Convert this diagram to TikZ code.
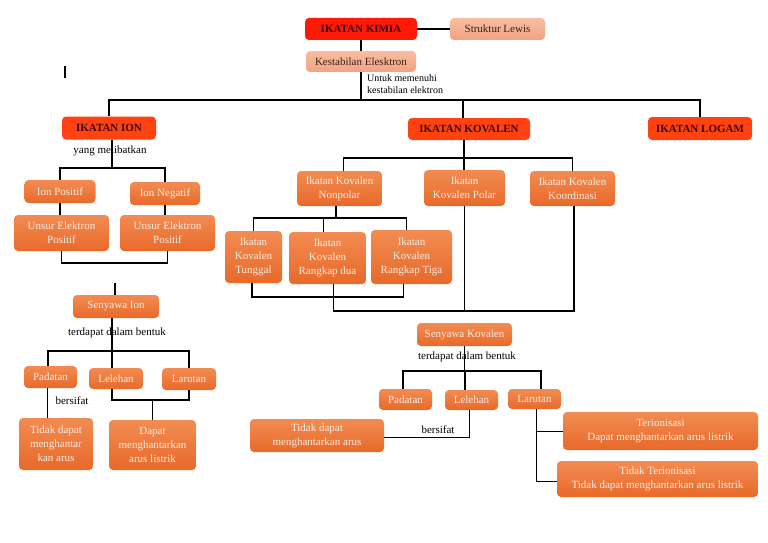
\documentclass[tikz,border=0pt]{standalone}
\usepackage{fontspec}
\setmainfont{Liberation Serif}
\begin{document}
\begin{tikzpicture}[x=1pt,y=-1pt,
  every node/.style={font=\fontsize{11}{14}\selectfont},
  boxbase/.style={rounded corners=4pt, inner sep=0pt, align=center},
  obox/.style={boxbase, top color=orange1, bottom color=orange2, text=cream},
  hbox/.style={boxbase, fill=hdred, text=hdtext, font=\bfseries\fontsize{11}{14}\selectfont},
  kbox/.style={boxbase, fill=kimiared, text=hdtext, font=\bfseries\fontsize{11}{14}\selectfont},
  pbox/.style={boxbase, top color=peach1, bottom color=peach2, text=peachtext},
  lbl/.style={inner sep=0pt, text=black},
  ln/.style={draw=black, line width=1.4pt},
  thinln/.style={draw=black, line width=0.9pt}
]
\definecolor{orange1}{HTML}{F28C52}
\definecolor{orange2}{HTML}{E8692A}
\definecolor{cream}{HTML}{FDEEE2}
\definecolor{hdred}{HTML}{FF4211}
\definecolor{kimiared}{HTML}{FF1A08}
\definecolor{hdtext}{HTML}{3A0800}
\definecolor{peach1}{HTML}{F8BDA2}
\definecolor{peach2}{HTML}{F2A282}
\definecolor{peachtext}{HTML}{3A2214}
\useasboundingbox (0,0) rectangle (768,543);

% top
\node[kbox, minimum width=112, minimum height=22] (kimia) at (361,29) {IKATAN KIMIA};
\node[pbox, minimum width=95, minimum height=22] (lewis) at (497.5,29) {Struktur Lewis};
\node[pbox, minimum width=110, minimum height=21] (kest) at (361,61.5) {Kestabilan Elesktron};
\draw[ln] (kimia) -- (lewis);
\draw[ln] (kimia.south) -- (kimia.south |- kest.north);
\coordinate (busA) at (361,100);
\draw[ln] (kest.south) -- (busA);
\node[lbl, anchor=north west, align=left, font=\fontsize{10}{12}\selectfont] (untuk) at (367,74.5) {Untuk memenuhi\\kestabilan elektron};

% stray mark
\draw[line width=2pt] (65,66) -- (65,78);

% headers
\node[hbox, minimum width=94, minimum height=23] (ion) at (109,128) {IKATAN ION};
\node[hbox, minimum width=122, minimum height=22] (kov) at (469,129) {IKATAN KOVALEN};
\node[hbox, minimum width=104, minimum height=23] (logam) at (700,128.5) {IKATAN LOGAM};
\draw[ln] (ion.north) |- (busA) -| (logam.north);
\draw[ln] ([xshift=-6pt]kov.north) -- ([xshift=-6pt]kov.north |- busA);

% ion subtree
\node[lbl] (yang) at (110,151) {yang melibatkan};
\coordinate (busB) at (112,168);
\draw[ln] (ion.south -| busB) -- (busB);
\node[obox, minimum width=71, minimum height=23] (ionpos) at (60,191.5) {Ion Positif};
\node[obox, minimum width=70, minimum height=23] (ionneg) at (165,193.5) {Ion Negatif};
\draw[ln] (ionpos.north) |- (busB) -| (ionneg.north);
\node[obox, minimum width=95, minimum height=36] (unsur1) at (61.5,233) {Unsur Elektron\\Positif};
\node[obox, minimum width=95, minimum height=36] (unsur2) at (167.5,233) {Unsur Elektron\\Positif};
\draw[ln] (ionpos.south) -- (ionpos.south |- unsur1.north);
\draw[ln] (ionneg.south) -- (ionneg.south |- unsur2.north);
\coordinate (brk1) at (0,263);
\draw[ln] (unsur1.south) -- (unsur1.south |- brk1) -- (unsur2.south |- brk1) -- (unsur2.south);

\coordinate (sy0) at (115,283);
\node[obox, minimum width=86, minimum height=23] (senion) at (116,306.5) {Senyawa Ion};
\draw[ln] (sy0) -- (sy0 |- senion.north);
\node[lbl] (terd1) at (117,333) {terdapat dalam bentuk};
\coordinate (busC) at (112,351);
\draw[ln] (senion.south -| busC) -- (busC);
\node[obox, minimum width=53, minimum height=22] (pad1) at (50.5,377) {Padatan};
\node[obox, minimum width=54, minimum height=21] (leh1) at (116,378.5) {Lelehan};
\node[obox, minimum width=54, minimum height=22] (lar1) at (189,379) {Larutan};
\draw[ln] ([xshift=-2.5pt]pad1.north) |- (busC) -| (lar1.north);
\draw[ln] (busC) -- (busC |- leh1.north);
\node[obox, minimum width=74, minimum height=52] (tdk1) at (56,444) {Tidak dapat\\menghantar\\kan arus};
\draw[thinln] ([xshift=-3pt]pad1.south) -- ([xshift=-3pt]pad1.south |- tdk1.north);
\node[lbl] (bers1) at (72,401) {bersifat};
\coordinate (brk2) at (0,400);
\node[obox, minimum width=87, minimum height=50] (dapat1) at (152.5,445) {Dapat\\menghantarkan\\arus listrik};
\draw[ln] ([xshift=-4pt]leh1.south) -- ([xshift=-4pt]leh1.south |- brk2) -- (lar1.south |- brk2) -- (lar1.south);
\draw[ln] (dapat1.north) -- (dapat1.north |- brk2);

% kovalen subtree
\coordinate (busD) at (464,158);
\draw[ln] (kov.south -| busD) -- (busD);
\node[obox, minimum width=85, minimum height=35] (nonp) at (339.5,188.5) {Ikatan Kovalen\\Nonpolar};
\node[obox, minimum width=81, minimum height=36] (polar) at (464.5,188) {Ikatan\\Kovalen Polar};
\node[obox, minimum width=85, minimum height=35] (koord) at (572.5,188.5) {Ikatan Kovalen\\Koordinasi};
\draw[ln] ([xshift=4pt]nonp.north) |- (busD) -| (koord.north);
\draw[ln] (busD) -- (busD |- polar.north);
\coordinate (busE) at (336,218);
\draw[ln] (nonp.south -| busE) -- (busE);
\node[obox, minimum width=57, minimum height=52] (tung) at (253.5,257) {Ikatan\\Kovalen\\Tunggal};
\node[obox, minimum width=77, minimum height=52] (rdua) at (327.5,258) {Ikatan\\Kovalen\\Rangkap dua};
\node[obox, minimum width=81, minimum height=54] (rtiga) at (411.5,257) {Ikatan\\Kovalen\\Rangkap Tiga};
\draw[ln] (tung.north) |- (busE) -| ([xshift=-5pt]rtiga.north);
\draw[ln] ([xshift=-4pt]rdua.north) -- ([xshift=-4pt]rdua.north |- busE);
\coordinate (brk3) at (0,297);
\draw[ln] ([xshift=-1.5pt]tung.south) -- ([xshift=-1.5pt]tung.south |- brk3) -- ([xshift=-8pt]rtiga.south |- brk3) -- ([xshift=-8pt]rtiga.south);
\coordinate (brk4) at (0,311);
\draw[ln] ([xshift=6pt]rdua.south) -- ([xshift=6pt]rdua.south |- brk4) -- ([xshift=1.5pt]koord.south |- brk4) -- ([xshift=1.5pt]koord.south);
\draw[ln] (polar.south) -- (polar.south |- brk4);

\node[obox, minimum width=95, minimum height=23] (senkov) at (464.5,334.5) {Senyawa Kovalen};
\node[lbl] (terd2) at (467,357) {terdapat dalam bentuk};
\coordinate (busG) at (465,371);
\draw[ln] (senkov.south) -- (senkov.south |- busG);
\node[obox, minimum width=53, minimum height=21] (pad2) at (405.5,399.5) {Padatan};
\node[obox, minimum width=53, minimum height=20] (leh2) at (471.5,400) {Lelehan};
\node[obox, minimum width=53, minimum height=20] (lar2) at (534.5,399) {Larutan};
\draw[ln] ([xshift=-2.5pt]pad2.north) |- (busG) -| ([xshift=6.5pt]lar2.north);
\draw[ln] (busG) -- (busG |- leh2.north);
\node[obox, minimum width=134, minimum height=33] (tdk2) at (317,435.5) {Tidak dapat\\menghantarkan arus};
\draw[thinln] ([xshift=-2pt]leh2.south) |- ([yshift=-1.5pt]tdk2.east);
\node[lbl] (bers2) at (438,430) {bersifat};
\node[obox, minimum width=195, minimum height=38] (teri) at (660.5,431) {Terionisasi\\Dapat menghantarkan arus listrik};
\node[obox, minimum width=201, minimum height=36] (tteri) at (657.5,479) {Tidak Terionisasi\\Tidak dapat menghantarkan arus listrik};
\draw[thinln] ([xshift=1.5pt]lar2.south) |- ([yshift=-2pt]tteri.west);
\draw[thinln] ([xshift=1.5pt]lar2.south |- teri.west) -- (teri.west);
\end{tikzpicture}
\end{document}
